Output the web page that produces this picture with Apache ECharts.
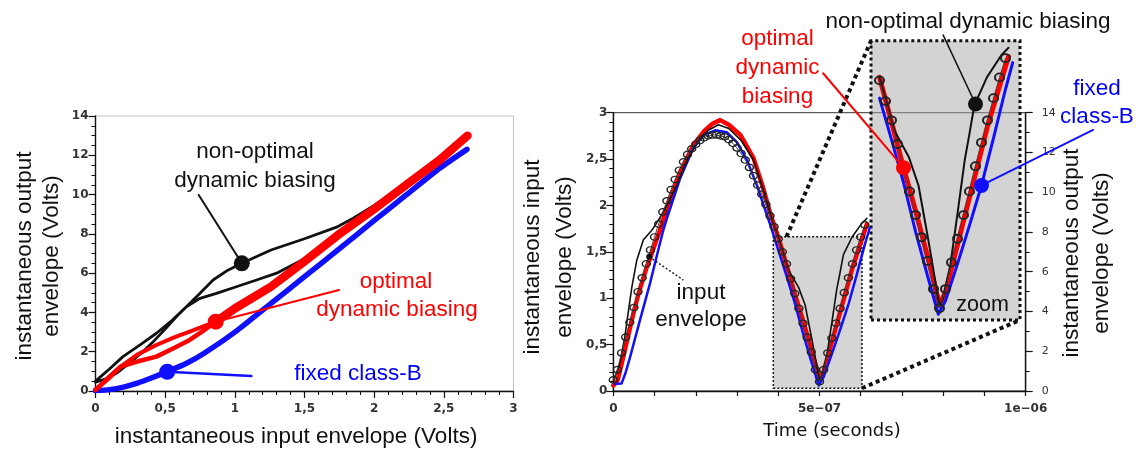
<!DOCTYPE html>
<html><head><meta charset="utf-8">
<script src="https://cdn.jsdelivr.net/npm/echarts@6/dist/echarts.min.js"></script>
<style>html,body{margin:0;padding:0;background:#fff}#c{width:1140px;height:450px}</style>
</head><body><div id="c"></div>
<script>
// ================= LEFT CHART: output envelope vs input envelope =================
const leftXTickLabels = ['0','0,5','1','1,5','2','2,5','3'];
const blueTransfer = [[0,0.02],[0.1,0.07],[0.2,0.2],[0.3,0.4],[0.4,0.66],[0.52,1.0],[0.65,1.4],[0.78,1.92],[1.02,3.1],[1.26,4.46],[1.5,5.82],[1.74,7.18],[1.99,8.62],[2.23,9.98],[2.47,11.34],[2.666,12.3]];
const redUpperBranch = [[0,0.08],[0.09,0.6],[0.18,1.24],[0.3,1.85],[0.437,2.34],[0.56,2.72],[0.676,3.02],[0.863,3.53]];
const redLowerBranch = [[0,0.05],[0.09,0.66],[0.18,1.24],[0.3,1.5],[0.437,1.75],[0.56,2.18],[0.676,2.6],[0.77,3.05],[0.863,3.53]];
const redMain = [[0.863,3.53],[1.0,4.2],[1.26,5.31],[1.5,6.6],[1.74,7.94],[1.99,9.21],[2.23,10.49],[2.47,11.76],[2.67,13.0]];
const blackRise = [[0,0.5],[0.1,1.12],[0.197,1.75],[0.32,2.35],[0.437,2.94],[0.55,3.6],[0.652,4.29],[0.75,4.98],[0.844,5.65],[0.95,6.15],[1.05,6.5],[1.26,7.18],[1.5,7.75],[1.74,8.37],[1.85,8.8],[2.0,9.45],[2.2,10.4],[2.4,11.4],[2.55,12.2],[2.67,13.0]];
const blackFall = [[2.67,13.0],[2.5,11.95],[2.3,10.9],[2.0,9.28],[1.7,7.74],[1.5,6.73],[1.3,6.0],[1.156,5.65],[1.0,5.28],[0.868,4.97],[0.75,4.72],[0.652,4.29],[0.58,3.78],[0.5,3.15],[0.42,2.55],[0.34,2.0],[0.25,1.45],[0.15,0.9],[0.07,0.6],[0,0.45]];
const leftBlackDot = [1.05,6.5], leftBlackPointerEnd = [0.741,9.98];
const leftRedDot = [0.863,3.53], leftRedPointerEnd = [1.748,5.14];
const leftBlueDot = [0.515,0.98], leftBluePointerEnd = [1.118,0.76];

// ================= RIGHT CHART: envelopes vs time =================
const rightYTickLabels = ['0','0,5','1','1,5','2','2,5','3'];
const rightXTickLabels = ['0','','','','','5e\u221207','','','','','1e\u221206'];
const timeCircleNs = [0,10,20,30,40,50,60,70,80,90,100,110,120,130,140,150,160,170,180,190,200,210,220,230,240,250,260,270,280,290,300,310,320,330,340,350,360,370,380,390,400,410,420,430,440,450,460,470,480,490,500,510,520,530,540,550,560,570,580,590,600,610];
const inputEnvelope = [0.12,0.23,0.41,0.58,0.74,0.90,1.07,1.22,1.37,1.52,1.66,1.80,1.93,2.05,2.17,2.28,2.38,2.47,2.55,2.61,2.66,2.70,2.73,2.75,2.76,2.76,2.75,2.74,2.71,2.67,2.62,2.56,2.49,2.41,2.32,2.22,2.12,2.01,1.89,1.77,1.64,1.50,1.37,1.21,1.05,0.89,0.73,0.58,0.42,0.23,0.10,0.23,0.41,0.57,0.73,0.89,1.06,1.22,1.37,1.52,1.66,1.79];
const redTimeNs = [0,10,20,30,40,50,60,70,80,90,100,113,130,162,194,220,240,259,280,308,340,364,380,400,420,440,460,480,490,500,510,520,540,560,580,600,615];
const redEnv = [0.06,0.11,0.29,0.48,0.67,0.86,1.03,1.18,1.32,1.44,1.57,1.73,1.97,2.36,2.65,2.80,2.88,2.92,2.87,2.76,2.51,2.18,1.92,1.66,1.36,1.05,0.76,0.45,0.29,0.12,0.21,0.37,0.69,1.01,1.33,1.60,1.80];
const blackTimeNs = [0,16,28,36,45,57,73,93,105,129,154,180,210,230,255,280,310,340,364,388,400,425,449,465,481,496,500,506,518,530,542,550,558,579,603,615];
const blackEnv = [0.10,0.30,0.585,0.84,1.12,1.41,1.63,1.73,1.81,1.99,2.22,2.50,2.72,2.81,2.87,2.83,2.70,2.49,2.17,1.80,1.66,1.30,1.12,0.93,0.57,0.21,0.11,0.17,0.39,0.74,1.10,1.28,1.47,1.66,1.81,1.86];
const blueTimeNs = [4,20,30,41,65,89,109,121,130,162,194,220,247,275,300,324,348,360,380,400,420,440,460,480,498,510,530,550,570,590,610,622];
const blueEnv = [0.075,0.08,0.2,0.37,0.77,1.16,1.52,1.73,1.86,2.29,2.62,2.76,2.81,2.79,2.68,2.49,2.22,2.06,1.80,1.52,1.24,0.95,0.62,0.32,0.06,0.15,0.40,0.66,0.93,1.25,1.58,1.76];
const inputPointerDot = [87,1.447], inputPointerEnd = [170,1.196];
// zoom window (ns / Volts) and inset ranges
const zoomBoxNs = [388,603], zoomBoxV = [0.03,1.663];
const insetNs = [385.8,634.2], insetV = [0.021,1.908];
const insetDataStartNs = 400;
const connTopStart = [420,1.663];
const insetBlackDot = [560,1.48], insetBlackPointerEnd = [506,1.947];
const insetRedDot = [440,1.05], insetRedPointerEnd = [306,1.688];
const insetBlueDot = [570,0.93], insetBluePointerEnd = [756,1.305];

// ================= build =================
const NS = 1e-9;
const pairs = (t, v) => t.map((x, i) => [x * NS, v[i]]);
const toS = p => [p[0] * NS, p[1]];
const fmt = (labels, step) => v => { const i = Math.round(v / step); return labels[i] !== undefined ? labels[i] : ''; };
const RED = '#ff0000', BLUE = '#1010ff', BLK = '#111';
const tickFont = {fontFamily: 'DejaVu Sans', fontSize: 12, fontWeight: 'bold', color: '#333'};
const tickFontLight = {fontFamily: 'DejaVu Sans', fontSize: 11, color: '#333'};
const inset = arr => arr.filter(p => p[0] >= insetDataStartNs * NS - 1e-13);

const circles = pairs(timeCircleNs, inputEnvelope);
const redS = pairs(redTimeNs, redEnv), blackS = pairs(blackTimeNs, blackEnv), blueS = pairs(blueTimeNs, blueEnv);

function axisBase(extra) {
  return Object.assign({
    type: 'value',
    axisLine: {show: true, onZero: false, lineStyle: {color: BLK, width: 1.4}},
    axisTick: {show: true, length: 7, lineStyle: {color: BLK, width: 1.2}},
    splitLine: {show: false}, minorSplitLine: {show: false}
  }, extra);
}
function lineS(data, color, width, xi, yi, z, extra) {
  return Object.assign({type: 'line', data, xAxisIndex: xi, yAxisIndex: yi, z, symbol: 'none', showSymbol: false,
    lineStyle: {color, width, cap: 'round', join: 'round'}, silent: true}, extra || {});
}
function dotS(pt, color, size, xi, yi, z) {
  return {type: 'scatter', data: [pt], xAxisIndex: xi, yAxisIndex: yi, z, symbolSize: size, itemStyle: {color, opacity: 1}, silent: true};
}
function circleS(data, xi, yi, z, size, bw) {
  return {type: 'line', data, xAxisIndex: xi, yAxisIndex: yi, z, symbol: 'circle', showSymbol: true, symbolSize: size,
    lineStyle: {color: '#444', width: 1}, itemStyle: {color: 'rgba(0,0,0,0)', borderColor: '#222', borderWidth: bw}, silent: true};
}

const option = {
  animation: false,
  backgroundColor: '#fff',
  grid: [
    {left: 95.5, top: 116, width: 418, height: 275, show: true, borderColor: '#c4c4c4', borderWidth: 1, backgroundColor: '#fff'},
    {left: 613.3, top: 112.7, width: 412.4, height: 278.3, show: true, borderColor: '#333', borderWidth: 1},
    {left: 871, top: 40.7, width: 149, height: 279.3, show: false}
  ],
  xAxis: [
    axisBase({gridIndex: 0, min: 0, max: 3, interval: 0.5,
      minorTick: {show: true, splitNumber: 5, length: 4, lineStyle: {color: BLK, width: 1}},
      axisLabel: Object.assign({margin: 12, formatter: fmt(leftXTickLabels, 0.5)}, tickFont)}),
    axisBase({gridIndex: 1, min: 0, max: 1e-6, interval: 1e-7,
      axisTick: {show: true, length: 5, lineStyle: {color: BLK, width: 1.2}},
      axisLabel: Object.assign({margin: 12, interval: 0, formatter: fmt(rightXTickLabels, 1e-7)}, tickFont)}),
    {type: 'value', gridIndex: 2, min: insetNs[0] * NS, max: insetNs[1] * NS, show: false}
  ],
  yAxis: [
    axisBase({gridIndex: 0, min: 0, max: 14, interval: 2,
      minorTick: {show: true, splitNumber: 4, length: 4, lineStyle: {color: BLK, width: 1}},
      axisLabel: Object.assign({margin: 7}, tickFont)}),
    axisBase({gridIndex: 1, min: 0, max: 3, interval: 0.5,
      minorTick: {show: true, splitNumber: 5, length: 4, lineStyle: {color: BLK, width: 1}},
      axisLabel: Object.assign({margin: 6, formatter: fmt(rightYTickLabels, 0.5)}, tickFont)}),
    axisBase({gridIndex: 1, position: 'right', min: 0, max: 14, interval: 2,
      minorTick: {show: true, splitNumber: 2, length: 4, lineStyle: {color: BLK, width: 1}},
      axisLabel: Object.assign({margin: 16}, tickFontLight)}),
    {type: 'value', gridIndex: 2, min: insetV[0], max: insetV[1], show: false}
  ],
  series: [
    // ---- left chart
    lineS(blueTransfer, BLUE, 5.5, 0, 0, 2, {smooth: 0.2}),
    lineS(blackRise.concat(blackFall), BLK, 2.8, 0, 0, 3),
    lineS(redLowerBranch, RED, 4.5, 0, 0, 4),
    lineS(redUpperBranch, RED, 4, 0, 0, 4),
    lineS(redMain, RED, 8.5, 0, 0, 4),
    lineS([leftBlackDot, leftBlackPointerEnd], BLK, 2, 0, 0, 5),
    lineS([leftRedDot, leftRedPointerEnd], RED, 2, 0, 0, 5),
    lineS([leftBlueDot, leftBluePointerEnd], BLUE, 2.5, 0, 0, 5),
    dotS(leftBlackDot, BLK, 16, 0, 0, 6),
    dotS(leftRedDot, RED, 16, 0, 0, 6),
    dotS(leftBlueDot, BLUE, 16, 0, 0, 6),
    // ---- right chart: zoom window
    {type: 'line', xAxisIndex: 1, yAxisIndex: 1, z: 1, data: [[zoomBoxNs[0] * NS, zoomBoxV[0]]], symbol: 'none', lineStyle: {opacity: 0}, silent: true,
      markArea: {silent: true, itemStyle: {color: '#d5d5d5', borderColor: BLK, borderWidth: 1.5, borderType: [2, 2]},
        data: [[{xAxis: zoomBoxNs[0] * NS, yAxis: zoomBoxV[0]}, {xAxis: zoomBoxNs[1] * NS, yAxis: zoomBoxV[1]}]]}},
    lineS(redS, RED, 4.5, 1, 1, 2),
    lineS(blueS, BLUE, 2.5, 1, 1, 3),
    lineS(blackS, BLK, 1.6, 1, 1, 4),
    circleS(circles, 1, 1, 5, [8, 6.5], 1.3),
    lineS([toS(inputPointerDot), toS(inputPointerEnd)], '#222', 1.5, 1, 1, 6, {lineStyle: {color: '#222', width: 1.5, type: [2, 2]}}),
    dotS(toS(inputPointerDot), '#111', 6, 1, 1, 7),
    // ---- inset (magnified zoom)
    {type: 'line', xAxisIndex: 2, yAxisIndex: 3, z: 1, data: [[insetNs[0] * NS, insetV[0]]], symbol: 'none', lineStyle: {opacity: 0}, silent: true,
      markArea: {silent: true, itemStyle: {color: 'rgba(168,168,168,0.5)', borderColor: BLK, borderWidth: 3, borderType: [3, 3]},
        data: [[{xAxis: insetNs[0] * NS, yAxis: insetV[0]}, {xAxis: insetNs[1] * NS, yAxis: insetV[1]}]]}},
    lineS(inset(redS), RED, 5, 2, 3, 2),
    lineS(inset(blueS), BLUE, 3, 2, 3, 3),
    lineS(inset(blackS), BLK, 2, 2, 3, 4),
    circleS(inset(circles), 2, 3, 5, [9, 8], 1.9),
    dotS(toS(insetBlackDot), BLK, 15, 2, 3, 7),
    dotS(toS(insetRedDot), RED, 15, 2, 3, 7),
    dotS(toS(insetBlueDot), BLUE, 15, 2, 3, 7)
  ]
};

const chart = echarts.init(document.getElementById('c'), null, {renderer: 'canvas'});
chart.setOption(option);

// ---- texts, pointer lines of the inset and connectors
const F = '22.5px "Liberation Sans"';
function txt(text, x, y, color, font, rot) {
  return {type: 'text', x, y, rotation: rot || 0, z: 20, silent: true,
    style: {text, font: font || F, fill: color || BLK, align: 'center', verticalAlign: 'middle', textAlign: 'center', textVerticalAlign: 'middle'}};
}
const R90 = Math.PI / 2;
const px1 = p => chart.convertToPixel({xAxisIndex: 1, yAxisIndex: 1}, [p[0] * NS, p[1]]);
const px2 = p => chart.convertToPixel({xAxisIndex: 2, yAxisIndex: 3}, [p[0] * NS, p[1]]);
function seg(a, b, stroke, lw, dash, z) {
  return {type: 'line', z: z || 15, silent: true, shape: {x1: a[0], y1: a[1], x2: b[0], y2: b[1]},
    style: {stroke, lineWidth: lw, lineDash: dash || null, lineCap: dash ? 'butt' : 'round'}};
}
const a1 = px1(connTopStart), b1 = px2([insetNs[0], insetV[1]]);
const a2 = px1([zoomBoxNs[1], zoomBoxV[0]]), b2 = px2([insetNs[1], insetV[0]]);
chart.setOption({graphic: {elements: [
  seg(a1, b1, BLK, 4, [4, 3.5]), seg(a2, b2, BLK, 4, [4, 3.5]),
  seg(px2(insetBlackDot), px2(insetBlackPointerEnd), BLK, 1.5, null, 16),
  seg(px2(insetRedDot), px2(insetRedPointerEnd), RED, 2, null, 16),
  seg(px2(insetBlueDot), px2(insetBluePointerEnd), BLUE, 2, null, 16),
  // left chart
  txt('instantaneous output', 25, 256, BLK, F, R90),
  txt('envelope (Volts)', 51.5, 256, BLK, F, R90),
  txt('instantaneous input envelope (Volts)', 296, 437),
  txt('non-optimal', 255, 152),
  txt('dynamic biasing', 255, 180.5),
  txt('optimal', 396, 282, RED),
  txt('dynamic biasing', 397, 310, RED),
  txt('fixed class-B', 358, 374, '#0000ff'),
  // right chart
  txt('instantaneous input', 533, 257, BLK, F, R90),
  txt('envelope (Volts)', 565, 257, BLK, F, R90),
  txt('Time (seconds)', 832, 431, BLK, '18px "DejaVu Sans"'),
  txt('instantaneous output', 1071.5, 253, BLK, F, R90),
  txt('envelope (Volts)', 1101.5, 253, BLK, F, R90),
  txt('non-optimal dynamic biasing', 968, 21.7),
  txt('optimal', 777.5, 38.5, RED),
  txt('dynamic', 777.5, 68, RED),
  txt('biasing', 777.5, 96.5, RED),
  txt('fixed', 1097, 88.3, '#0000ff'),
  txt('class-B', 1097, 116.7, '#0000ff'),
  txt('zoom', 982.5, 305, BLK, '21.5px "Liberation Sans"'),
  txt('input', 701, 292.7),
  txt('envelope', 701, 320)
]}});
</script></body></html>
